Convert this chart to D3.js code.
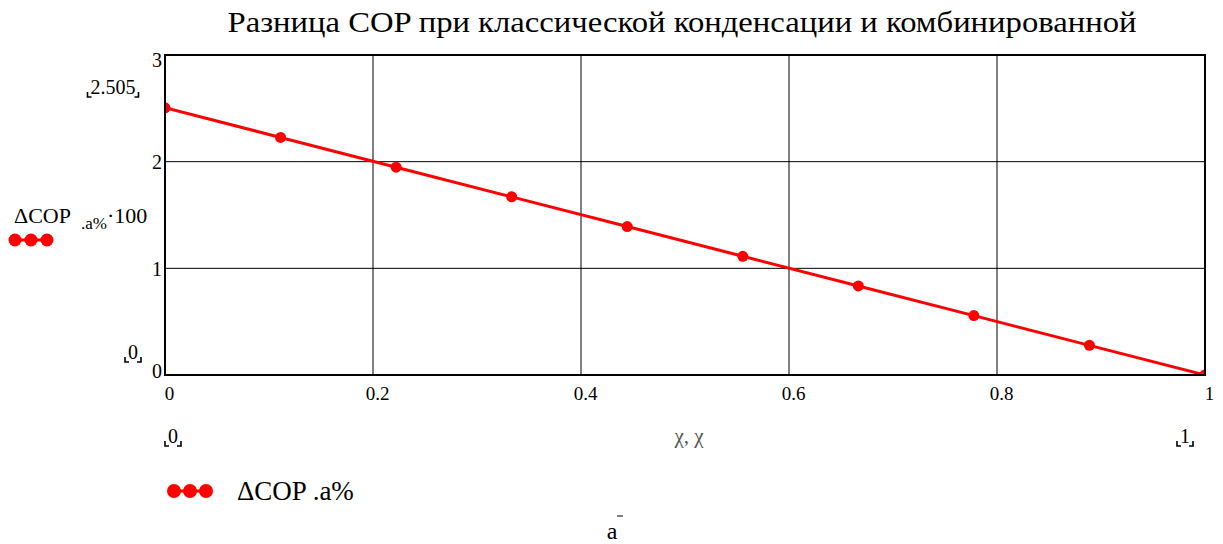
<!DOCTYPE html>
<html>
<head>
<meta charset="utf-8">
<script src="https://cdn.jsdelivr.net/npm/d3@7"></script>
<style>
  body { margin: 0; background: #fff; }
  svg text { font-family: "Liberation Serif", "DejaVu Serif", serif !important; }
</style>
</head>
<body>
<div id="chart"></div>
<script>
// chart data
var chartTitle = "Разница COP при классической конденсации и комбинированной";
var xValues = [0, 1/9, 2/9, 3/9, 4/9, 5/9, 6/9, 7/9, 8/9, 1];
var dCopValues = [2.505, 2.227, 1.948, 1.670, 1.392, 1.113, 0.835, 0.557, 0.278, 0];
var xTicks = [0, 0.2, 0.4, 0.6, 0.8, 1];
var yTicks = [0, 1, 2, 3];
var seriesName = "ΔCOP .a%";

var width = 1223, height = 544;
var margin = {left: 165, right: 18, top: 55, bottom: 169};

var svg = d3.select("#chart").append("svg")
    .attr("width", width)
    .attr("height", height);

var x = d3.scaleLinear().domain([0, 1]).range([margin.left, width - margin.right]);
var y = d3.scaleLinear().domain([0, 3]).range([height - margin.bottom, margin.top]);

// title
svg.append("text")
    .attr("x", 682).attr("y", 32)
    .attr("text-anchor", "middle")
    .style("font-size", "30px")
    .attr("textLength", 909)
    .attr("lengthAdjust", "spacingAndGlyphs")
    .text(chartTitle);

// grid
var grid = svg.append("g");
grid.selectAll("line.gx").data(xTicks.slice(1, -1)).enter().append("line")
    .attr("x1", function(d) { return x(d); }).attr("x2", function(d) { return x(d); })
    .attr("y1", y(3)).attr("y2", y(0))
    .attr("stroke", "#000").attr("stroke-width", 1);
grid.selectAll("line.gy").data(yTicks.slice(1, -1)).enter().append("line")
    .attr("x1", x(0)).attr("x2", x(1))
    .attr("y1", function(d) { return y(d); }).attr("y2", function(d) { return y(d); })
    .attr("stroke", "#000").attr("stroke-width", 1);

// tick labels via d3 axes (no lines)
var xAxis = d3.axisBottom(x).tickValues(xTicks).tickSize(0).tickPadding(12)
    .tickFormat(function(d) { return String(+d.toFixed(1)); });
var gx = svg.append("g").attr("transform", "translate(4," + y(0) + ")").call(xAxis);
gx.select(".domain").remove();
gx.selectAll("text").style("font-size", "19px").attr("fill", "#000");

var yAxis = d3.axisLeft(y).tickValues(yTicks).tickSize(0).tickPadding(3).tickFormat(d3.format("d"));
var gy = svg.append("g").attr("transform", "translate(" + x(0) + ",0)").call(yAxis);
gy.select(".domain").remove();
gy.selectAll("text").style("font-size", "20px").attr("fill", "#000")
    .attr("dy", function(d) { return d === 0 ? "0.1em" : (d === 3 ? "0.55em" : "0.35em"); });

// clip
svg.append("clipPath").attr("id", "plotclip").append("rect")
    .attr("x", x(0)).attr("y", y(3)).attr("width", x(1) - x(0)).attr("height", y(0) - y(3));

var plot = svg.append("g").attr("clip-path", "url(#plotclip)");
var pts = xValues.map(function(d, i) { return [d, dCopValues[i]]; });
var line = d3.line().x(function(d) { return x(d[0]); }).y(function(d) { return y(d[1]); });
plot.append("path").datum(pts)
    .attr("d", line)
    .attr("fill", "none").attr("stroke", "#ff0000").attr("stroke-width", 3);
plot.selectAll("circle").data(pts).enter().append("circle")
    .attr("cx", function(d) { return x(d[0]); })
    .attr("cy", function(d) { return y(d[1]); })
    .attr("r", 5.5)
    .attr("fill", "#ff0000");

// frame
svg.append("rect")
    .attr("x", x(0)).attr("y", y(3))
    .attr("width", x(1) - x(0)).attr("height", y(0) - y(3))
    .attr("fill", "none").attr("stroke", "#000").attr("stroke-width", 2);

// mathcad style bracketed limit labels
function bracketLabel(cx, cy, txt, size) {
    var g = svg.append("g");
    var t = g.append("text").attr("x", cx).attr("y", cy)
        .attr("text-anchor", "middle")
        .style("font-size", size + "px")
        .text(txt);
    var bb = t.node().getBBox();
    var bx0 = bb.x - 3, bx1 = bb.x + bb.width + 3, by = cy + 3;
    g.append("path").attr("d", "M" + bx0 + "," + (by - 5) + "V" + by + "H" + (bx0 + 4))
        .attr("fill", "none").attr("stroke", "#000").attr("stroke-width", 1.6);
    g.append("path").attr("d", "M" + bx1 + "," + (by - 5) + "V" + by + "H" + (bx1 - 4))
        .attr("fill", "none").attr("stroke", "#000").attr("stroke-width", 1.6);
}
bracketLabel(113, 94, d3.format(".3f")(dCopValues[0]), 20);
bracketLabel(133, 359, "0", 20);
bracketLabel(173, 443, String(xValues[0]), 20);
bracketLabel(1185, 443, String(xValues[xValues.length - 1]), 20);

// y-axis expression label
var yl = svg.append("text").attr("x", 14).attr("y", 223).style("font-size", "22px");
yl.append("tspan").text("ΔCOP");
yl.append("tspan").attr("dx", 10).attr("dy", 6).style("font-size", "17px").text(".a%");
yl.append("tspan").attr("dy", -6).style("font-size", "22px").text("·100");

function legendMarker(x0, cy, step, r) {
    var g = svg.append("g");
    g.append("line").attr("x1", x0).attr("x2", x0 + 2 * step).attr("y1", cy).attr("y2", cy)
        .attr("stroke", "#ff0000").attr("stroke-width", 3);
    g.selectAll("circle").data([0, 1, 2]).enter().append("circle")
        .attr("cx", function(d) { return x0 + d * step; })
        .attr("cy", cy).attr("r", r).attr("fill", "#ff0000");
}
legendMarker(15, 240, 16, 6.5);

// x-axis expression label
svg.append("text").attr("x", 689).attr("y", 443)
    .attr("text-anchor", "middle")
    .attr("fill", "#555")
    .style("font-size", "21px")
    .text("χ, χ");

// legend
legendMarker(174, 491, 16, 7);
svg.append("text").attr("x", 237).attr("y", 500)
    .style("font-size", "27px")
    .text(seriesName);

// caption
svg.append("text").attr("x", 612).attr("y", 539)
    .attr("text-anchor", "middle")
    .style("font-size", "24px")
    .text("a");
svg.append("line").attr("x1", 617).attr("x2", 623).attr("y1", 516).attr("y2", 516)
    .attr("stroke", "#000").attr("stroke-width", 1);
</script>
</body>
</html>
